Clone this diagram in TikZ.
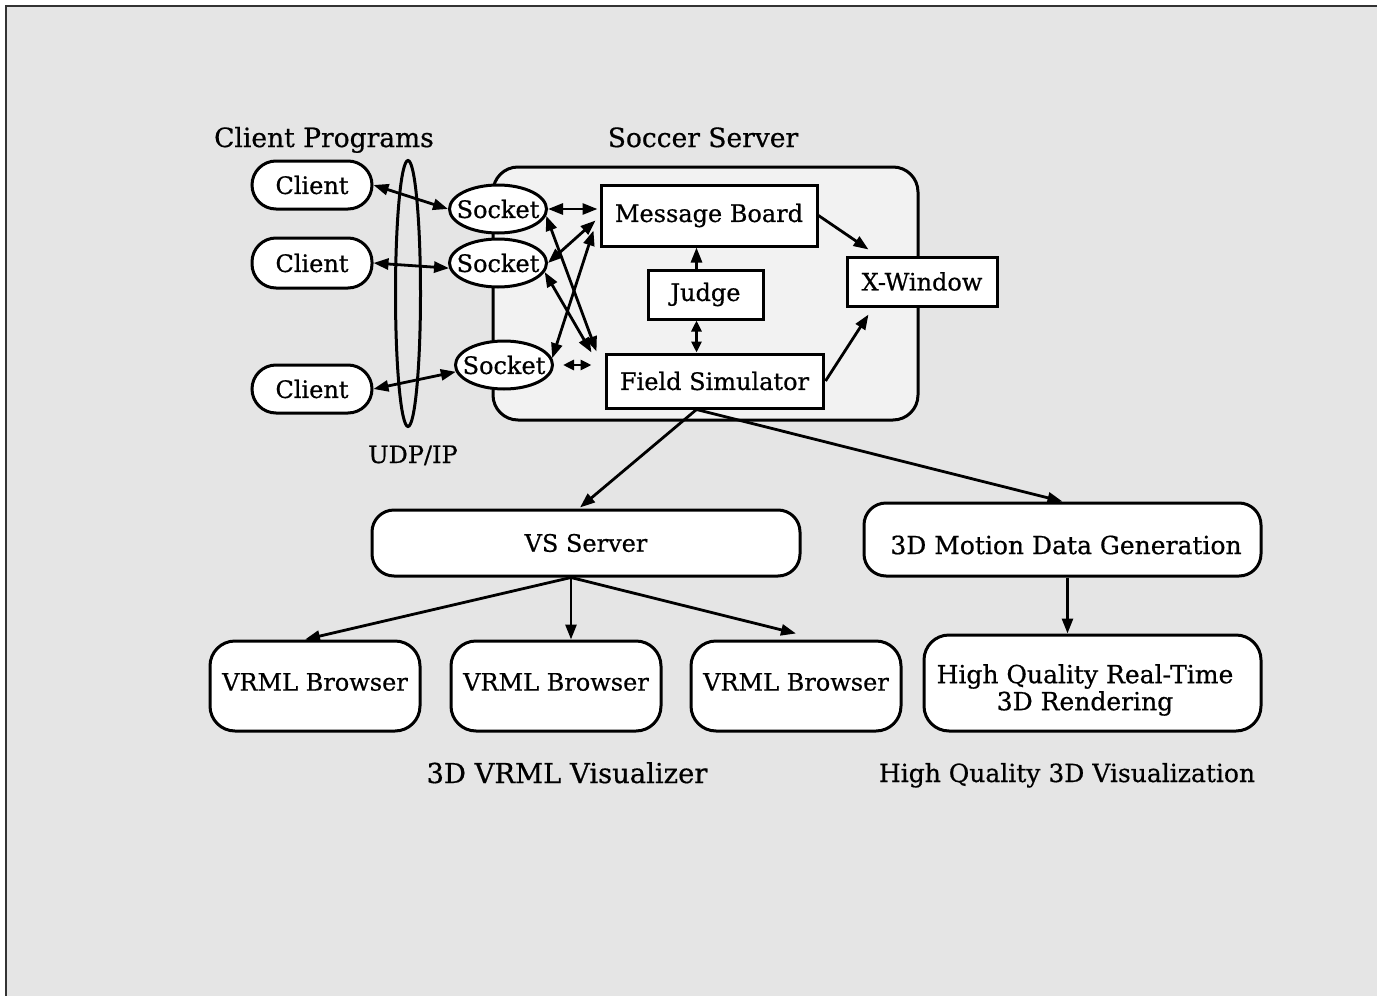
\documentclass[tikz,border=0pt]{standalone}
\usepackage{fontspec}
\setmainfont{DejaVu Serif}[UprightFeatures={FakeBold=0.6}]
\usetikzlibrary{arrows.meta,shapes.geometric,calc}
\definecolor{bgc}{HTML}{E5E5E5}
\definecolor{innerc}{HTML}{F2F2F2}
\begin{document}
\begin{tikzpicture}[x=1pt,y=-1pt,
  every node/.style={font=\fontsize{24}{27}\selectfont, inner sep=0pt},
  lbl/.style={font=\fontsize{26.5}{30}\selectfont},
  lblb/.style={font=\fontsize{25}{30}\selectfont},
  conn/.style={line width=2.8pt},
  >={Triangle[length=15pt,width=11pt]},
  small/.style={>={Triangle[length=11pt,width=10pt]}},
  sqbox/.style={draw, fill=white, line width=3pt, rectangle},
  rbox/.style={draw, fill=white, line width=3pt, rectangle, rounded corners=22pt},
  clientbox/.style={rbox, rounded corners=24pt, minimum width=120pt, minimum height=48pt},
  sock/.style={draw, fill=white, line width=3pt, ellipse, minimum width=97pt, minimum height=48pt},
  vrml/.style={rbox, rounded corners=25pt, minimum width=210pt, minimum height=90pt}
]
\useasboundingbox (0,0) rectangle (1377,996);
\fill[bgc] (6,6) rectangle (1377,996);
\draw[line width=1.5pt, black!80] (6,996) -- (6,6) -- (1377,6);

% titles
\node[lbl, anchor=base] (tcp) at (324,147) {Client Programs};
\node[lbl, anchor=base] (tss) at (703,147) {Soccer Server};
\node[anchor=base] (tudp) at (413,463) {UDP/IP};
\node[lbl, anchor=base, font=\fontsize{27.4}{30}\selectfont] (tvr) at (567,783) {3D VRML Visualizer};
\node[lblb, anchor=base] (thq) at (1067,782) {High Quality 3D Visualization};

% soccer server frame
\node[draw, fill=innerc, line width=3pt, rounded corners=25pt,
      minimum width=425pt, minimum height=253pt] (ss) at (705.5,293.5) {};

% clients
\node[clientbox] (c1) at (312,185) {Client};
\node[clientbox, minimum height=50pt] (c2) at (312,263) {Client};
\node[clientbox] (c3) at (312,389) {Client};

% UDP ellipse
\node[draw, ellipse, line width=3pt, minimum width=25pt, minimum height=266pt] (udp) at (408,293.5) {};

% sockets
\node[sock] (s1) at (498,209) {};
\node (s1t) at (s1) {Socket};
\node[sock] (s2) at (498,263) {};
\node (s2t) at (s2) {Socket};
\node[sock] (s3) at (504,365) {};
\node (s3t) at (s3) {Socket};

% server boxes
\node[sqbox, minimum width=216pt, minimum height=61pt] (mb) at (709,215.5) {Message Board};
\node[sqbox, minimum width=115pt, minimum height=49pt] (judge) at (705.5,294.5) {Judge};
\node[sqbox, minimum width=217pt, minimum height=54pt] (fs) at (714.5,381) {Field Simulator};
\node[sqbox, minimum width=150pt, minimum height=49pt] (xw) at (922,281.5) {X-Window};

% lower boxes
\node[rbox, minimum width=428pt, minimum height=66pt] (vs) at (586,543) {VS Server};
\node[rbox, minimum width=397pt, minimum height=73pt] (m3d) at (1062.5,539.5) {};
\node[lblb] (m3dt) at (1066,545) {3D Motion Data Generation};
\node[vrml] (vb1) at (315,686) {};
\node (vb1t) at (315,682) {VRML Browser};
\node[vrml] (vb2) at (556,686) {};
\node (vb2t) at (556,682) {VRML Browser};
\node[vrml] (vb3) at (796,686) {};
\node (vb3t) at (796,682) {VRML Browser};
\node[rbox, rounded corners=25pt, minimum width=337pt, minimum height=96pt] (hq) at (1092.5,683) {};
\node[lblb, align=center, font=\fontsize{25}{27}\selectfont] (hqt) at (1085,690) {High Quality Real-Time\\3D Rendering};

% junction points
\coordinate (ja) at ($(judge.north)+(-9,0)$);
\coordinate (jb) at ($(judge.south)+(-9,0)$);
\coordinate (fsb) at ($(fs.south)+(-18,0)$);
\coordinate (vsb) at ($(vs.south)+(-15,0)$);
\coordinate (m3b) at ($(m3d.south)+(5,0)$);

% client <-> socket
\draw[conn,<->] (c1.east) -- (s1.west);
\draw[conn,<->] (c2.east) -- (s2.186);
\draw[conn,<->] (c3.east) -- (s3.188);

% socket <-> server
\draw[conn,<->] (s1.east) -- ($(s1.east -| mb.west)+(-2,0)$);
\draw[conn,<->] (s2.east) -- ($(mb.west)+(-4,5)$);
\draw[conn,<->] (s1.-8) -- ($(fs.north west)+(-8,-1)$);
\draw[conn,<->] (s2.-11) -- ($(fs.north west)+(-13,0)$);
\draw[conn,<->] (s3.8) -- ($(mb.west)+(-6,15)$);
\draw[conn,small,<->] ($(s3.east)+(9,0)$) -- ($(s3.east -| fs.west)+(-13,0)$);

% judge
\draw[conn,->] (ja) -- (ja |- mb.south);
\draw[conn,small,<->] (jb) -- (jb |- fs.north);

% to X-Window
\draw[conn,->] (mb.east) -- ($(xw.north west)+(23,-6)$);
\draw[conn,->] ($(fs.east)+(1,0)$) -- ($(xw.south west)+(23,7)$);

% field simulator to lower
\draw[conn,->] (fsb) -- ($(vs.north)+(-6,-1)$);
\draw[conn,->] (fsb) -- (m3d.north);

% VS server to browsers
\draw[conn,->] (vsb) -- ($(vb1.north)+(-10,0)$);
\draw[conn,->] (vsb) -- (vsb |- vb2.north);
\draw[conn,->] (vsb) -- ($(vb3.north)+(0,-6)$);

% motion to rendering
\draw[conn,->] (m3b) -- (m3b |- hq.north);
\end{tikzpicture}
\end{document}
